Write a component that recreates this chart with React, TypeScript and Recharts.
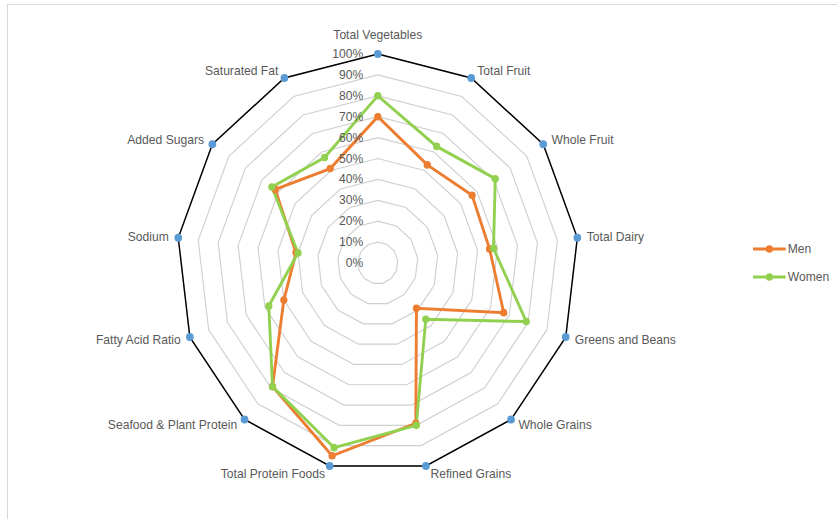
import React from 'react';
import { RadarChart, Radar, PolarGrid, PolarAngleAxis, PolarRadiusAxis, Legend } from 'recharts';

const categories = [
  'Total Vegetables', 'Total Fruit', 'Whole Fruit', 'Total Dairy', 'Greens and Beans',
  'Whole Grains', 'Refined Grains', 'Total Protein Foods', 'Seafood & Plant Protein',
  'Fatty Acid Ratio', 'Sodium', 'Added Sugars', 'Saturated Fat',
];
const menValues = [70, 53, 57, 56, 67, 29, 79, 95, 79, 50, 41, 62, 51];
const womenValues = [80, 63, 71, 58, 79, 36, 80, 91, 79, 58, 40, 64, 57];
const maxValues = [100, 100, 100, 100, 100, 100, 100, 100, 100, 100, 100, 100, 100];
const radiusTicks = [0, 10, 20, 30, 40, 50, 60, 70, 80, 90, 100];
const seriesNames = ['Men', 'Women'];
const seriesColors = ['#ED7D31', '#92D050'];

const data = categories.map((c, i) => ({
  category: c,
  max: maxValues[i],
  men: menValues[i],
  women: womenValues[i],
}));

const W = 837;
const H = 519;
const K = 201 / 209; // horizontal squeeze of the reference
const CX = 377.8;
const CY = 263;
const R = 209;
const FONT = '"Liberation Sans", Arial, sans-serif';
const FS = 12.6;
const TXT = '#595959';

const AngleTick = (props: any) => {
  const { payload } = props;
  const i = categories.indexOf(payload.value);
  const th = (i * 2 * Math.PI) / categories.length;
  const s = Math.sin(th);
  const c = Math.cos(th);
  let x = CX + R * s;
  let y = CY - R * c;
  let anchor: 'start' | 'end' | 'middle' = 'middle';
  if (i === 0) {
    y -= 19;
  } else {
    y -= 8 * c;
    const gap = (3 + 6.5 * Math.abs(s)) / K;
    if (s > 0) { anchor = 'start'; x += gap; } else { anchor = 'end'; x -= gap; }
  }
  return (
    <text x={x} y={y} textAnchor={anchor} dominantBaseline="central" fill={TXT} fontSize={FS} fontFamily={FONT}>
      {payload.value}
    </text>
  );
};

const RadiusTick = (props: any) => {
  const { x, y, payload } = props;
  return (
    <text x={x - 15} y={y} textAnchor="end" dominantBaseline="central" fill={TXT} fontSize={FS} fontFamily={FONT}>
      {Math.round(payload.value) + '%'}
    </text>
  );
};

const LegendContent = () => (
  <svg width={90} height={50}>
    {seriesNames.map((n, i) => (
      <g key={n}>
        <line x1={2} x2={36} y1={11 + i * 28} y2={11 + i * 28} stroke={seriesColors[i]} strokeWidth={3} />
        <circle cx={19} cy={11 + i * 28} r={3.8} fill={seriesColors[i]} />
        <text x={38} y={11 + i * 28} dominantBaseline="central" fill={TXT} fontSize={FS} fontFamily={FONT}>{n}</text>
      </g>
    ))}
  </svg>
);

export default function App() {
  const legendLeft = CX + (751 - CX) / K;
  return (
    <div style={{ position: 'absolute', left: 0, top: 0, width: W, height: H, overflow: 'hidden', background: '#fff' }}>
      <div style={{ position: 'absolute', left: 7, top: 4, width: W - 7, height: 1, background: '#d9d9d9' }} />
      <div style={{ position: 'absolute', left: 7, top: 4, width: 1, height: H - 4, background: '#d9d9d9' }} />
      <div style={{ position: 'absolute', left: 0, top: 0, transform: `scaleX(${K})`, transformOrigin: `${CX}px 0px` }}>
        <RadarChart width={900} height={H} data={data} cx={CX} cy={CY} outerRadius={R} margin={{ top: 0, right: 0, bottom: 0, left: 0 }}>
          <PolarGrid gridType="polygon" radialLines={false} stroke="#d0d0d0" strokeWidth={1.2} />
          <PolarAngleAxis dataKey="category" tick={AngleTick} axisLine={false} tickLine={false} />
          <PolarRadiusAxis angle={90} type="number" domain={[0, 100]} tickCount={11} ticks={radiusTicks as any} tick={RadiusTick} axisLine={false} tickLine={false} />
          <Radar dataKey="max" name="max" stroke="#000000" strokeWidth={1.5} fill="none" fillOpacity={0}
            dot={{ r: 4, fill: '#5B9BD5', stroke: '#5B9BD5', strokeWidth: 0, fillOpacity: 1 }} legendType="none" isAnimationActive={false} />
          <Radar dataKey="men" name="Men" stroke={seriesColors[0]} strokeWidth={3} fill="none" fillOpacity={0}
            dot={{ r: 3.8, fill: seriesColors[0], stroke: seriesColors[0], strokeWidth: 0, fillOpacity: 1 }} isAnimationActive={false} />
          <Radar dataKey="women" name="Women" stroke={seriesColors[1]} strokeWidth={3} fill="none" fillOpacity={0}
            dot={{ r: 3.8, fill: seriesColors[1], stroke: seriesColors[1], strokeWidth: 0, fillOpacity: 1 }} isAnimationActive={false} />
          <Legend content={LegendContent} wrapperStyle={{ position: 'absolute', left: legendLeft, top: 238, width: 90, height: 50 }} />
        </RadarChart>
      </div>
    </div>
  );
}
